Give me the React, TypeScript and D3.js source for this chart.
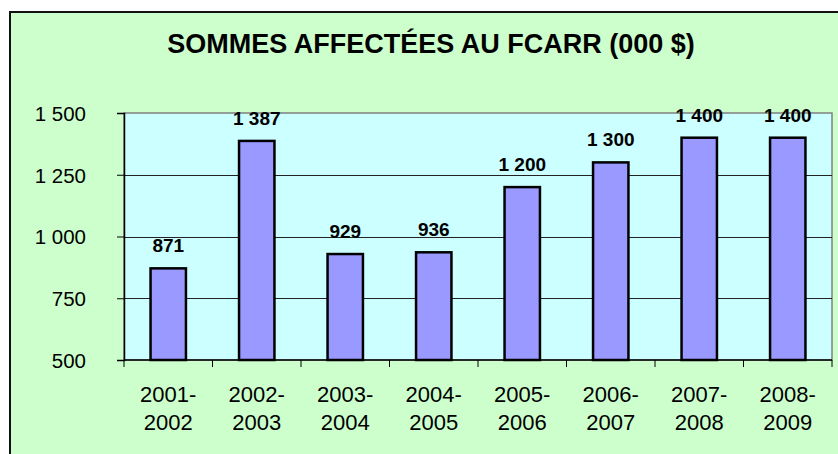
import * as d3 from 'd3';
import { useEffect, useRef } from 'react';

const periods = ['2001-2002', '2002-2003', '2003-2004', '2004-2005', '2005-2006', '2006-2007', '2007-2008', '2008-2009'];
const amounts = [871, 1387, 929, 936, 1200, 1300, 1400, 1400];
const yTicks = [500, 750, 1000, 1250, 1500];
const title = 'SOMMES AFFECTÉES AU FCARR (000 $)';

const App = () => {
  const svgRef = useRef<any>();
  const width = 838;
  const height = 454;
  const plotLeft = 124;
  const plotRight = 832;
  const plotTop = 113;
  const plotBottom = 360;
  const font = 'Liberation Sans, Arial, sans-serif';

  useEffect(() => {
    const svg = d3.select(svgRef.current);
    svg.selectAll('*').remove();

    const fr = d3.formatLocale({ decimal: ',', thousands: ' ', grouping: [3], currency: ['', ' $'] });
    const fmt = fr.format(',d');

    // chart area background
    svg
      .append('rect')
      .attr('x', 10)
      .attr('y', 12)
      .attr('width', 880)
      .attr('height', 480)
      .attr('fill', '#CCFFCC')
      .attr('stroke', '#111')
      .attr('stroke-width', 2);

    svg
      .append('text')
      .attr('x', 431)
      .attr('y', 52.5)
      .attr('text-anchor', 'middle')
      .attr('font-family', font)
      .attr('font-weight', 'bold')
      .attr('font-size', 27)
      .attr('fill', '#000')
      .text(title);

    const xScale = d3
      .scaleBand()
      .domain(periods)
      .range([plotLeft, plotRight])
      .paddingInner(0.6)
      .paddingOuter(0.3);
    const yScale = d3.scaleLinear().domain([500, 1500]).range([plotBottom, plotTop]);

    // plot area
    svg
      .append('rect')
      .attr('x', plotLeft)
      .attr('y', plotTop)
      .attr('width', plotRight - plotLeft)
      .attr('height', plotBottom - plotTop)
      .attr('fill', '#CCFFFF')
      .attr('stroke', '#808080')
      .attr('stroke-width', 1.5);

    // grid lines
    svg
      .append('g')
      .selectAll('line')
      .data(yTicks.slice(1, -1))
      .enter()
      .append('line')
      .attr('x1', plotLeft)
      .attr('x2', plotRight)
      .attr('y1', (d) => Math.round(yScale(d)) + 0.5)
      .attr('y2', (d) => Math.round(yScale(d)) + 0.5)
      .attr('stroke', '#222')
      .attr('stroke-width', 1);

    // bars
    svg
      .append('g')
      .selectAll('rect')
      .data(amounts)
      .enter()
      .append('rect')
      .attr('x', (d, i) => xScale(periods[i]) as number)
      .attr('y', (d) => yScale(d))
      .attr('width', xScale.bandwidth())
      .attr('height', (d) => plotBottom - yScale(d))
      .attr('fill', '#9999FF')
      .attr('stroke', '#000')
      .attr('stroke-width', 2.5);

    // value labels
    svg
      .append('g')
      .selectAll('text')
      .data(amounts)
      .enter()
      .append('text')
      .attr('x', (d, i) => (xScale(periods[i]) as number) + xScale.bandwidth() / 2)
      .attr('y', (d) => yScale(d) - 16)
      .attr('text-anchor', 'middle')
      .attr('font-family', font)
      .attr('font-weight', 'bold')
      .attr('font-size', 19)
      .attr('fill', '#000')
      .text((d) => fmt(d));

    // y axis
    const yAxis = d3
      .axisLeft(yScale)
      .tickValues(yTicks)
      .tickSize(7)
      .tickPadding(31)
      .tickFormat((d) => fmt(d as number));
    const yG = svg.append('g').attr('transform', 'translate(' + plotLeft + ',0)').call(yAxis);
    yG.select('.domain').attr('stroke', '#000').attr('stroke-width', 1.5);
    yG.selectAll('line').attr('stroke', '#000');
    yG.selectAll('text')
      .attr('font-family', font)
      .attr('font-size', 20.5)
      .attr('fill', '#000')
      .attr('dy', '0.36em');

    // x axis
    const xTickPos = periods.map((p) => (xScale(p) as number) - xScale.step() * 0.3);
    xTickPos.push(plotRight);
    svg
      .append('line')
      .attr('x1', plotLeft)
      .attr('x2', plotRight)
      .attr('y1', plotBottom)
      .attr('y2', plotBottom)
      .attr('stroke', '#000')
      .attr('stroke-width', 1.5);
    svg
      .append('g')
      .selectAll('line')
      .data(xTickPos)
      .enter()
      .append('line')
      .attr('x1', (d) => d)
      .attr('x2', (d) => d)
      .attr('y1', plotBottom)
      .attr('y2', plotBottom + 7)
      .attr('stroke', '#000')
      .attr('stroke-width', 1);

    const xLabels = svg
      .append('g')
      .selectAll('text')
      .data(periods)
      .enter()
      .append('text')
      .attr('x', (d) => (xScale(d) as number) + xScale.bandwidth() / 2)
      .attr('y', 401.5)
      .attr('text-anchor', 'middle')
      .attr('font-family', font)
      .attr('font-size', 22)
      .attr('fill', '#000');
    xLabels
      .append('tspan')
      .attr('x', (d) => (xScale(d) as number) + xScale.bandwidth() / 2)
      .text((d) => d.split('-')[0] + '-');
    xLabels
      .append('tspan')
      .attr('x', (d) => (xScale(d) as number) + xScale.bandwidth() / 2)
      .attr('dy', 28.5)
      .text((d) => d.split('-')[1]);
  }, []);

  return (
    <svg
      ref={svgRef}
      width={width}
      height={height}
      style={{ position: 'absolute', left: 0, top: 0, background: '#fff', display: 'block' }}
    />
  );
};

export default App;
